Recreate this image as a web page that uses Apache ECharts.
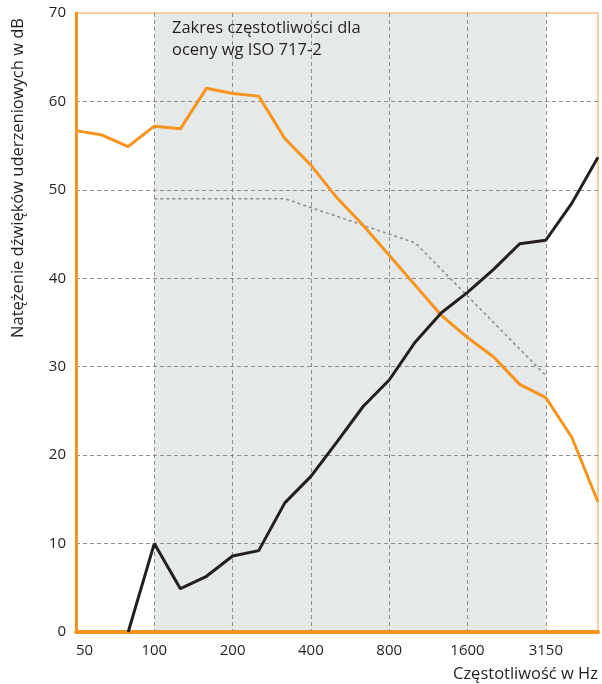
<!DOCTYPE html>
<html>
<head>
<meta charset="utf-8">
<script src="https://cdn.jsdelivr.net/npm/echarts@6/dist/echarts.min.js"></script>
<style>
html,body{margin:0;padding:0;background:#fff;}
#chart{width:602px;height:684px;}
</style>
</head>
<body>
<div id="chart"></div>
<script>
const categories = ['50','63','80','100','125','160','200','250','315','400','500','630','800','1000','1250','1600','2000','2500','3150','4000','5000'];
const orangeValues = [56.7,56.2,54.9,57.2,56.9,61.5,60.9,60.6,55.8,52.8,49.1,46.0,42.6,39.2,35.8,33.3,31.1,28.0,26.5,22.0,14.7];
const blackValues = [null,null,0,10.0,4.9,6.3,8.6,9.2,14.6,17.6,21.5,25.5,28.5,32.8,36.1,38.4,41.0,43.9,44.3,48.5,53.7];
const referenceValues = [null,null,null,49,49,49,49,49,49,48,47,46,45,44,41,38,35,32,29,null,null];
const rangeStart = '100';
const rangeEnd = '3150';
const yTicks = {min:0, max:70, interval:10};
const annotation = 'Zakres częstotliwości dla\noceny wg ISO 717-2';
const xName = 'Częstotliwość w Hz';
const yName = 'Natężenie dźwięków uderzeniowych w dB';

const FONT = 'Open Sans';
const TXT = '#231F20';
const ORANGE = '#F7941D';
const chart = echarts.init(document.getElementById('chart'));
const gridDash = {color:'#8f8f8f', width:1, type:[4,3]};

chart.setOption({
  animation:false,
  backgroundColor:'#fff',
  textStyle:{fontFamily:FONT},
  grid:{left:76, right:4, top:13, bottom:52, show:true, borderColor:'#F9C084', borderWidth:1.5, backgroundColor:'transparent', zlevel:1},
  xAxis:{
    type:'category', data:categories, boundaryGap:false, zlevel:1,
    axisLine:{show:true, lineStyle:{color:ORANGE, width:4}},
    axisTick:{show:false},
    axisLabel:{interval:2, color:TXT, fontSize:15, fontFamily:FONT, margin:11, alignMinLabel:'left'},
    splitLine:{show:true, interval:2, showMinLine:false, lineStyle:gridDash},
    name:xName, nameLocation:'end', nameGap:0,
    nameTextStyle:{color:TXT, fontSize:16.5, fontFamily:FONT, align:'right', verticalAlign:'top', padding:[34,0,0,0]}
  },
  yAxis:{
    type:'value', min:yTicks.min, max:yTicks.max, interval:yTicks.interval, zlevel:1,
    axisLine:{show:true, lineStyle:{color:ORANGE, width:3}},
    axisTick:{show:false},
    axisLabel:{color:TXT, fontSize:15, fontFamily:FONT, margin:10},
    splitLine:{show:true, showMinLine:false, showMaxLine:false, lineStyle:gridDash}
  },
  graphic:[
    {type:'text', x:18, y:178, rotation:Math.PI/2, zlevel:2,
     style:{text:yName, fill:TXT, font:'16.5px "'+FONT+'"', textAlign:'center', textVerticalAlign:'middle'}},
    {type:'text', left:172, top:17, zlevel:2,
     style:{text:annotation, fill:TXT, font:'16.5px "'+FONT+'"', lineHeight:22}}
  ],
  series:[
    {type:'line', data:[], zlevel:0, silent:true,
     markArea:{silent:true, itemStyle:{color:'#E6E9EA'}, data:[[{xAxis:rangeStart},{xAxis:rangeEnd}]]}},
    {type:'line', data:referenceValues, symbol:'none', zlevel:2, z:2,
     lineStyle:{color:'#8a8a8a', width:1.5, type:[3,3]}},
    {type:'line', data:orangeValues, symbol:'none', zlevel:2, z:3,
     lineStyle:{color:ORANGE, width:3}},
    {type:'line', data:blackValues, symbol:'none', zlevel:2, z:4,
     lineStyle:{color:TXT, width:3}}
  ]
});
</script>
</body>
</html>
